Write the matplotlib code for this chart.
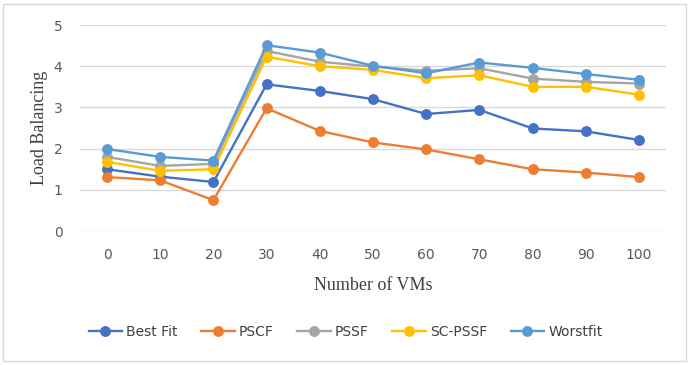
import matplotlib.pyplot as plt
import matplotlib.patches as patches

# données
vms = ['0', '10', '20', '30', '40', '50', '60', '70', '80', '90', '100']
best_fit = [1.50, 1.32, 1.19, 3.56, 3.40, 3.20, 2.84, 2.94, 2.49, 2.42, 2.21]
pscf = [1.31, 1.23, 0.75, 2.98, 2.43, 2.15, 1.98, 1.74, 1.50, 1.42, 1.31]
pssf = [1.80, 1.58, 1.63, 4.37, 4.11, 3.99, 3.89, 3.95, 3.70, 3.62, 3.58]
sc_pssf = [1.68, 1.46, 1.50, 4.23, 4.00, 3.91, 3.71, 3.78, 3.50, 3.50, 3.31]
worstfit = [1.99, 1.80, 1.71, 4.51, 4.33, 4.01, 3.83, 4.09, 3.96, 3.81, 3.67]

series = [
    ('Best Fit', best_fit, '#4472C4'),
    ('PSCF', pscf, '#ED7D31'),
    ('PSSF', pssf, '#A5A5A5'),
    ('SC-PSSF', sc_pssf, '#FFC000'),
    ('Worstfit', worstfit, '#5B9BD5'),
]

fig = plt.figure(figsize=(6.91, 3.65), dpi=100)
ax = fig.add_axes([0.1164, 0.367, 0.8468, 0.5645])

x = list(range(len(vms)))
for nom, vals, couleur in series:
    ax.plot(x, vals, color=couleur, lw=1.7, marker='o', markersize=6.8, label=nom)

ax.set_xlim(-0.5, len(vms) - 0.5)
ax.set_ylim(0, 5)
ax.set_xticks(x)
ax.set_xticklabels(vms)
ax.set_yticks(range(0, 6))
ax.grid(axis='y', color='#d9d9d9', lw=1)
ax.set_axisbelow(True)
for s in ax.spines.values():
    s.set_visible(False)
ax.tick_params(length=0, labelsize=10, labelcolor='#595959', pad=12)
ax.tick_params(axis='y', pad=13)

ax.set_xlabel('Number of VMs', family='Liberation Serif', fontsize=13, color='#404040', labelpad=11)
ax.set_ylabel('Load Balancing', family='Liberation Serif', fontsize=13, color='#404040', labelpad=4)

ax.legend(loc='center', bbox_to_anchor=(0.5, 33 / 365), bbox_transform=fig.transFigure,
          ncol=5, frameon=False, fontsize=10, handlelength=2.4, columnspacing=1.7,
          handletextpad=0.3, labelcolor='#404040')

# cadre gris autour du graphique
fig.patches.append(patches.Rectangle((3 / 691, 4 / 365), 683 / 691, 357 / 365,
                                     transform=fig.transFigure, fill=False,
                                     edgecolor='#d9d9d9', lw=1))

plt.savefig('out.png', dpi=100)
plt.close()
